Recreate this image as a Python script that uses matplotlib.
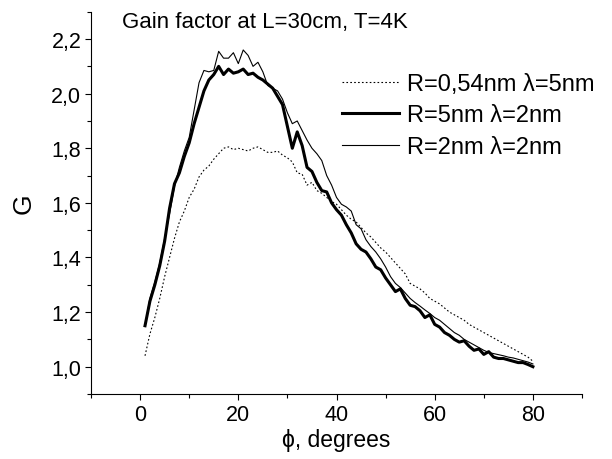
import matplotlib
matplotlib.use("Agg")
import matplotlib.pyplot as plt
from matplotlib.ticker import MultipleLocator, FuncFormatter

plt.rcParams['font.family'] = ['Liberation Sans', 'DejaVu Sans']

phi = list(range(1, 81))

g_dotted = [1.04, 1.12, 1.18, 1.25, 1.33, 1.40, 1.47, 1.53, 1.57, 1.62,
            1.65, 1.695, 1.72, 1.735, 1.76, 1.78, 1.80, 1.805, 1.795, 1.80,
            1.795, 1.79, 1.80, 1.805, 1.795, 1.785, 1.785, 1.79, 1.775, 1.765,
            1.75, 1.71, 1.705, 1.665, 1.675, 1.645, 1.635, 1.62, 1.605, 1.595,
            1.575, 1.555, 1.54, 1.53, 1.51, 1.49, 1.475, 1.455, 1.435, 1.42,
            1.40, 1.38, 1.36, 1.34, 1.305, 1.295, 1.285, 1.27, 1.25, 1.24,
            1.23, 1.215, 1.20, 1.19, 1.18, 1.17, 1.155, 1.145, 1.135, 1.125,
            1.115, 1.105, 1.095, 1.085, 1.075, 1.065, 1.055, 1.045, 1.035, 1.02]

g_thick = [1.15, 1.24, 1.30, 1.37, 1.46, 1.58, 1.67, 1.71, 1.77, 1.82,
           1.89, 1.95, 2.01, 2.05, 2.07, 2.10, 2.07, 2.09, 2.075, 2.08,
           2.09, 2.07, 2.075, 2.06, 2.05, 2.035, 2.02, 1.99, 1.96, 1.88,
           1.80, 1.86, 1.81, 1.73, 1.715, 1.675, 1.645, 1.64, 1.60, 1.575,
           1.555, 1.52, 1.49, 1.45, 1.43, 1.42, 1.395, 1.365, 1.355, 1.325,
           1.30, 1.275, 1.285, 1.25, 1.225, 1.22, 1.205, 1.18, 1.19, 1.155,
           1.145, 1.125, 1.115, 1.10, 1.09, 1.095, 1.075, 1.06, 1.065, 1.045,
           1.055, 1.035, 1.03, 1.03, 1.025, 1.02, 1.015, 1.015, 1.008, 1.00]

g_thin = [1.15, 1.25, 1.31, 1.38, 1.47, 1.56, 1.66, 1.73, 1.79, 1.84,
          1.94, 2.04, 2.085, 2.08, 2.085, 2.155, 2.13, 2.13, 2.15, 2.11,
          2.16, 2.14, 2.10, 2.115, 2.08, 2.03, 2.02, 2.01, 1.98, 1.93,
          1.89, 1.90, 1.865, 1.83, 1.80, 1.78, 1.755, 1.70, 1.665, 1.62,
          1.595, 1.585, 1.57, 1.52, 1.505, 1.465, 1.44, 1.42, 1.395, 1.365,
          1.33, 1.305, 1.29, 1.27, 1.25, 1.235, 1.222, 1.208, 1.195, 1.18,
          1.17, 1.155, 1.14, 1.125, 1.115, 1.10, 1.09, 1.08, 1.07, 1.06,
          1.052, 1.048, 1.044, 1.04, 1.035, 1.032, 1.027, 1.022, 1.017, 1.01]

labels = ["R=0,54nm λ=5nm", "R=5nm λ=2nm", "R=2nm λ=2nm"]
title = "Gain factor at L=30cm, T=4K"

fig = plt.figure(figsize=(6.12, 4.6), dpi=100)
ax = fig.add_axes([0.1487, 0.1413, 0.8023, 0.831])

ax.plot(phi, g_dotted, color='black', lw=0.8, ls=(0, (1.5, 2)), label=labels[0])
ax.plot(phi, g_thick, color='black', lw=2.2, label=labels[1])
ax.plot(phi, g_thin, color='black', lw=0.8, label=labels[2])

ax.set_xlim(-10, 90)
ax.set_ylim(0.9, 2.3)
ax.spines['top'].set_visible(False)
ax.spines['right'].set_visible(False)
for s in ('left', 'bottom'):
    ax.spines[s].set_linewidth(0.8)

ax.xaxis.set_major_locator(MultipleLocator(20))
ax.xaxis.set_minor_locator(MultipleLocator(10))
ax.yaxis.set_major_locator(MultipleLocator(0.2))
ax.yaxis.set_minor_locator(MultipleLocator(0.1))
ax.yaxis.set_major_formatter(FuncFormatter(lambda v, p: f"{v:.1f}".replace('.', ',')))
ax.tick_params(which='major', direction='out', length=4, width=0.8, labelsize=15.5, pad=3)
ax.tick_params(which='minor', direction='out', length=3, width=0.8)

ax.set_xlabel("ϕ, degrees", fontsize=16.5, labelpad=2)
ax.set_ylabel("G", fontsize=19, labelpad=11)

fig.text(0.199, 0.951, title, fontsize=16, va='center', ha='left')

leg = ax.legend(loc='upper left', bbox_to_anchor=(342 / 612, 1 - 74 / 460),
                bbox_transform=fig.transFigure, frameon=False, fontsize=17,
                handlelength=2.4, handletextpad=0.35, labelspacing=0.4,
                borderpad=0, borderaxespad=0)

fig.savefig("out.png", dpi=100)
